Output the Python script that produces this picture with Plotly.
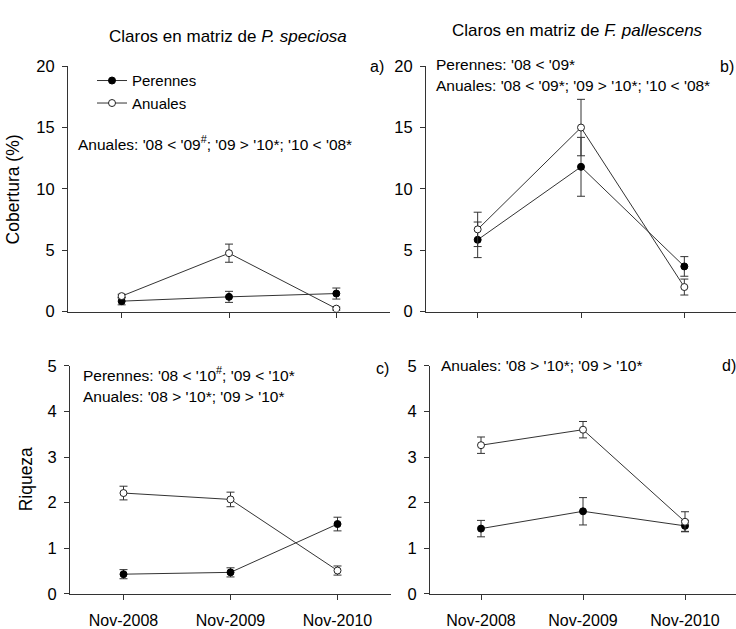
import plotly.graph_objects as go

categories = ["Nov-2008", "Nov-2009", "Nov-2010"]

# Panel a: cobertura, P. speciosa
a_per = [0.85, 1.2, 1.47]
a_per_err = [0.3, 0.45, 0.45]
a_anu = [1.26, 4.76, 0.24]
a_anu_err = [0.15, 0.74, 0.12]

# Panel b: cobertura, F. pallescens
b_per = [5.85, 11.8, 3.68]
b_per_err = [1.45, 2.4, 0.8]
b_anu = [6.7, 15.0, 2.0]
b_anu_err = [1.4, 2.3, 0.65]

# Panel c: riqueza, P. speciosa
c_per = [0.43, 0.47, 1.53]
c_per_err = [0.1, 0.1, 0.15]
c_anu = [2.21, 2.07, 0.51]
c_anu_err = [0.15, 0.16, 0.1]

# Panel d: riqueza, F. pallescens
d_per = [1.43, 1.81, 1.49]
d_per_err = [0.18, 0.3, 0.12]
d_anu = [3.26, 3.6, 1.58]
d_anu_err = [0.18, 0.18, 0.22]

W, H = 736, 629
FONT = "Liberation Sans, Arial, sans-serif"
LINE = "#333333"

xidx = list(range(len(categories)))

def px_x(p):
    return p / W

def px_y(p):
    return 1 - p / H

fig = go.Figure()

panels = [
    ("x", "y", a_per, a_per_err, a_anu, a_anu_err, True),
    ("x2", "y2", b_per, b_per_err, b_anu, b_anu_err, False),
    ("x3", "y3", c_per, c_per_err, c_anu, c_anu_err, False),
    ("x4", "y4", d_per, d_per_err, d_anu, d_anu_err, False),
]

for xa, ya, per, per_err, anu, anu_err, show in panels:
    fig.add_trace(go.Scatter(
        x=xidx, y=per, xaxis=xa, yaxis=ya, mode="lines+markers",
        name="Perennes", showlegend=show,
        line=dict(color=LINE, width=1),
        marker=dict(symbol="circle", size=7, color="black", line=dict(color="black", width=1)),
        error_y=dict(type="data", array=per_err, visible=True, color=LINE, thickness=1, width=4),
    ))
    fig.add_trace(go.Scatter(
        x=xidx, y=anu, xaxis=xa, yaxis=ya, mode="lines+markers",
        name="Anuales", showlegend=show,
        line=dict(color=LINE, width=1),
        marker=dict(symbol="circle", size=7, color="white", line=dict(color="#222222", width=1)),
        error_y=dict(type="data", array=anu_err, visible=True, color=LINE, thickness=1, width=4),
    ))

def xaxis(dom, labels, anchor):
    return dict(
        domain=dom, range=[-0.5, 2.5], anchor=anchor,
        tickmode="array", tickvals=xidx,
        ticktext=categories if labels else ["", "", ""],
        showticklabels=labels,
        ticks="outside", ticklen=5, tickcolor=LINE,
        ticklabelstandoff=7,
        showline=True, linecolor=LINE, linewidth=1,
        showgrid=False, zeroline=False,
        tickfont=dict(family=FONT, size=16, color="black"),
        fixedrange=True,
    )

def yaxis(dom, rng, dtick, anchor):
    return dict(
        domain=dom, range=rng, anchor=anchor, dtick=dtick,
        ticks="outside", ticklen=5, tickcolor=LINE,
        ticklabelstandoff=4,
        showline=True, linecolor=LINE, linewidth=1,
        showgrid=False, zeroline=False,
        tickfont=dict(family=FONT, size=16.5, color="black"),
        fixedrange=True,
    )

top = [px_y(312), px_y(59)]
bot = [px_y(603), px_y(368)]

fig.update_layout(
    width=W, height=H,
    margin=dict(l=0, r=0, t=0, b=0),
    paper_bgcolor="white", plot_bgcolor="white",
    font=dict(family=FONT, color="black"),
    xaxis=xaxis([px_x(68), px_x(390)], False, "y"),
    yaxis=yaxis(top, [0, 20], 5, "x"),
    xaxis2=xaxis([px_x(426), px_x(736)], False, "y2"),
    yaxis2=yaxis(top, [0, 20], 5, "x2"),
    xaxis3=xaxis([px_x(70), px_x(391)], True, "y3"),
    yaxis3=yaxis(bot, [0, 5], 1, "x3"),
    xaxis4=xaxis([px_x(430), px_x(736)], True, "y4"),
    yaxis4=yaxis(bot, [0, 5], 1, "x4"),
    showlegend=True,
    legend=dict(
        x=px_x(92), y=px_y(57), xanchor="left", yanchor="top",
        bgcolor="rgba(0,0,0,0)", font=dict(family=FONT, size=15, color="black"),
        itemwidth=30, tracegroupgap=0,
    ),
)

def ann(text, x, y, size=15.5, xanchor="left", yanchor="middle", angle=0):
    fig.add_annotation(
        text=text, x=px_x(x), y=px_y(y), xref="paper", yref="paper",
        showarrow=False, xanchor=xanchor, yanchor=yanchor, textangle=angle,
        font=dict(family=FONT, size=size, color="black"),
    )

# Column titles
ann("Claros en matriz de <i>P. speciosa</i>", 228, 28, size=17, xanchor="center")
ann("Claros en matriz de <i>F. pallescens</i>", 577, 22, size=17, xanchor="center")

# Axis titles
ann("Cobertura (%)", 13, 186, size=17.5, xanchor="center", angle=-90)
ann("Riqueza", 26, 485, size=17.5, xanchor="center", angle=-90)

# Panel labels
ann("a)", 377, 59, size=16, xanchor="center")
ann("b)", 727, 59, size=16, xanchor="center")
ann("c)", 383, 371, size=16, xanchor="center")
ann("d)", 729, 368, size=16, xanchor="center")

# Significance notes
ann("Anuales: '08 < '09<sup>#</sup>; '09 > '10*; '10 < '08*", 76, 138)
ann("Perennes: '08 < '09*", 434, 57)
ann("Anuales: '08 < '09*; '09 > '10*; '10 < '08*", 434, 79)
ann("Perennes: '08 < '10<sup>#</sup>; '09 < '10*", 81, 376)
ann("Anuales: '08 > '10*; '09 > '10*", 81, 400)
ann("Anuales: '08 > '10*; '09 > '10*", 439, 368)

fig.write_html("out.html")
